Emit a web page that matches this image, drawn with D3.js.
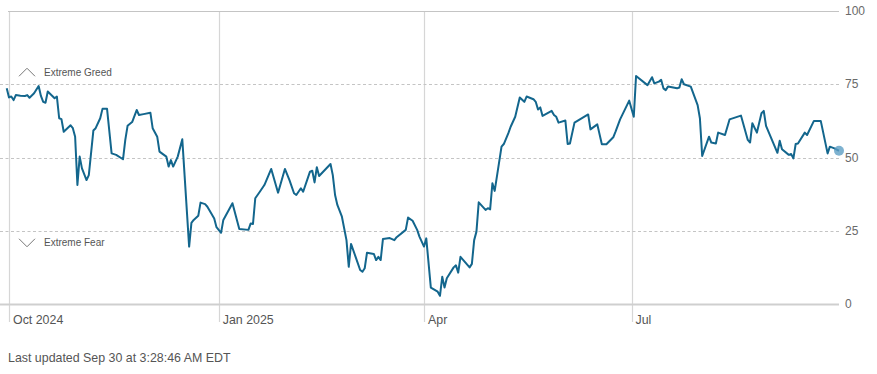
<!DOCTYPE html>
<html>
<head>
<meta charset="utf-8">
<script src="https://cdn.jsdelivr.net/npm/d3@7"></script>
<style>
  html, body { margin: 0; padding: 0; background: #fff; }
  svg { display: block; font-family: "Liberation Sans", Arial, sans-serif; }
</style>
</head>
<body>
<div id="app"></div>
<script>
// Fear & Greed readings, [date, score]
const q4_2024 = [
  ['2024-09-30', 73.6], ['2024-10-01', 70.5], ['2024-10-02', 70.8], ['2024-10-03', 69.6],
  ['2024-10-04', 71.3], ['2024-10-06', 71.1], ['2024-10-08', 71], ['2024-10-09', 71.3],
  ['2024-10-10', 70.4], ['2024-10-12', 71.9], ['2024-10-14', 74.4], ['2024-10-15', 71],
  ['2024-10-16', 69], ['2024-10-17', 68.7], ['2024-10-18', 72.5], ['2024-10-20', 71],
  ['2024-10-21', 70.2], ['2024-10-22', 70.8], ['2024-10-23', 63.4], ['2024-10-24', 63.1],
  ['2024-10-25', 58.8], ['2024-10-28', 61], ['2024-10-29', 60], ['2024-10-30', 57.1],
  ['2024-10-31', 40.6], ['2024-11-01', 50.3], ['2024-11-02', 46.3], ['2024-11-04', 42.3],
  ['2024-11-05', 44], ['2024-11-07', 59.2], ['2024-11-08', 60], ['2024-11-10', 63.4],
  ['2024-11-11', 66.6], ['2024-11-13', 66.6], ['2024-11-15', 51.4], ['2024-11-17', 50.9],
  ['2024-11-20', 49.4], ['2024-11-21', 56], ['2024-11-22', 60.8], ['2024-11-24', 62.1],
  ['2024-11-26', 66.2], ['2024-11-27', 64.5], ['2024-11-29', 64.8], ['2024-12-02', 65.3],
  ['2024-12-03', 60], ['2024-12-05', 57.1], ['2024-12-06', 52], ['2024-12-09', 50.3],
  ['2024-12-10', 46.9], ['2024-12-11', 49.1], ['2024-12-12', 46.9], ['2024-12-14', 50.3],
  ['2024-12-16', 56.2], ['2024-12-19', 19.6], ['2024-12-20', 27.7], ['2024-12-21', 28.7],
  ['2024-12-23', 30.1], ['2024-12-24', 34.6], ['2024-12-26', 34.1], ['2024-12-27', 33.2],
  ['2024-12-30', 29.2], ['2024-12-31', 26.2],
];
const q1_2025 = [
  ['2025-01-02', 24.3], ['2025-01-03', 28.7], ['2025-01-07', 34.4], ['2025-01-10', 25.6],
  ['2025-01-14', 25.3], ['2025-01-15', 27.5], ['2025-01-16', 27.3], ['2025-01-17', 36.1],
  ['2025-01-19', 38.3], ['2025-01-21', 40.6], ['2025-01-24', 46.1], ['2025-01-27', 38],
  ['2025-01-30', 46.1], ['2025-02-01', 42.3], ['2025-02-03', 37.8], ['2025-02-04', 37.2],
  ['2025-02-06', 39.5], ['2025-02-07', 38.3], ['2025-02-10', 45.2], ['2025-02-11', 45.5],
  ['2025-02-12', 41.5], ['2025-02-13', 46.7], ['2025-02-14', 43.7], ['2025-02-19', 47.8],
  ['2025-02-20', 44], ['2025-02-21', 37.2], ['2025-02-22', 33.8], ['2025-02-24', 29.8],
  ['2025-02-26', 21.8], ['2025-02-27', 12.7], ['2025-02-28', 20.5], ['2025-03-02', 16.1],
  ['2025-03-04', 11.6], ['2025-03-05', 11], ['2025-03-06', 12.2], ['2025-03-07', 17.5],
  ['2025-03-10', 17.1], ['2025-03-11', 15], ['2025-03-12', 16.1], ['2025-03-13', 15],
  ['2025-03-14', 22.2], ['2025-03-17', 22.5], ['2025-03-19', 21.8], ['2025-03-20', 22.8],
  ['2025-03-24', 25.3], ['2025-03-25', 29.5], ['2025-03-27', 28.4], ['2025-03-29', 25.3],
  ['2025-03-30', 23],
];
const q2_2025 = [
  ['2025-04-01', 19.6], ['2025-04-02', 22.4], ['2025-04-04', 5.6], ['2025-04-07', 4.2],
  ['2025-04-08', 2.8], ['2025-04-09', 9.3], ['2025-04-10', 5.6], ['2025-04-11', 8.8],
  ['2025-04-14', 12.5], ['2025-04-15', 13.2], ['2025-04-16', 10.7], ['2025-04-17', 16.1],
  ['2025-04-21', 12.5], ['2025-04-22', 13.7], ['2025-04-23', 21.8], ['2025-04-24', 24.7],
  ['2025-04-25', 34.7], ['2025-04-28', 32.1], ['2025-04-29', 32.7], ['2025-04-30', 32.3],
  ['2025-05-01', 41.2], ['2025-05-02', 38.6], ['2025-05-05', 53.7], ['2025-05-06', 54.6],
  ['2025-05-08', 58.3], ['2025-05-09', 60.5], ['2025-05-11', 63.9], ['2025-05-13', 70.5],
  ['2025-05-15', 69], ['2025-05-16', 70.8], ['2025-05-19', 69.9], ['2025-05-20', 69],
  ['2025-05-21', 66.4], ['2025-05-22', 67.1], ['2025-05-23', 64.2], ['2025-05-27', 65.9],
  ['2025-05-28', 64.5], ['2025-05-29', 63.9], ['2025-05-30', 61.9], ['2025-06-02', 62.6],
  ['2025-06-03', 54.6], ['2025-06-04', 54.8], ['2025-06-06', 61.9], ['2025-06-12', 64.7],
  ['2025-06-13', 59.6], ['2025-06-16', 61.3], ['2025-06-18', 54.5], ['2025-06-20', 54.5],
  ['2025-06-23', 56.9], ['2025-06-24', 58.8], ['2025-06-26', 63], ['2025-06-30', 69.4],
];
const q3_2025 = [
  ['2025-07-02', 63.9], ['2025-07-03', 77.8], ['2025-07-08', 74.7], ['2025-07-10', 77.4],
  ['2025-07-11', 75.3], ['2025-07-13', 75.9], ['2025-07-14', 76.5], ['2025-07-15', 73.6],
  ['2025-07-16', 73], ['2025-07-17', 74.2], ['2025-07-21', 73.6], ['2025-07-22', 73.9],
  ['2025-07-23', 76.7], ['2025-07-24', 75], ['2025-07-27', 74.2], ['2025-07-30', 67.9],
  ['2025-07-31', 63.4], ['2025-08-01', 50.5], ['2025-08-04', 57.1], ['2025-08-05', 55.1],
  ['2025-08-07', 54.8], ['2025-08-08', 58.5], ['2025-08-11', 57.7], ['2025-08-13', 63],
  ['2025-08-18', 64.3], ['2025-08-21', 56], ['2025-08-22', 55.1], ['2025-08-23', 61.7],
  ['2025-08-25', 58.5], ['2025-08-27', 65.1], ['2025-08-28', 65.9], ['2025-08-29', 60.8],
  ['2025-09-03', 51.6], ['2025-09-04', 55.7], ['2025-09-05', 52.8], ['2025-09-08', 50.9],
  ['2025-09-09', 51.2], ['2025-09-10', 49.7], ['2025-09-11', 54.6], ['2025-09-12', 54.8],
  ['2025-09-15', 58.5], ['2025-09-16', 57.7], ['2025-09-19', 62.5], ['2025-09-22', 62.5],
  ['2025-09-25', 51.4], ['2025-09-26', 53.7], ['2025-09-28', 53.1], ['2025-09-30', 52.3],
];

const monthTicks = ['2024-10-01', '2025-01-01', '2025-04-01', '2025-07-01'];
const monthLabels = ['Oct 2024', 'Jan 2025', 'Apr', 'Jul'];
const scoreTicks = [0, 25, 50, 75, 100];
const zoneLabels = ['Extreme Greed', 'Extreme Fear'];
const footnote = 'Last updated Sep 30 at 3:28:46 AM EDT';

const width = 877;
const height = 374;
const lineColor = '#13668d';
const gridColor = '#c4c4c4';
const textColor = '#6a6a6a';

const parseDate = d3.timeParse('%Y-%m-%d');
const readings = [...q4_2024, ...q1_2025, ...q2_2025, ...q3_2025].map(d => ({
  date: parseDate(d[0]),
  score: d[1],
}));

const svg = d3
  .select('#app')
  .append('svg')
  .attr('width', width)
  .attr('height', height);

const xScale = d3
  .scaleTime()
  .domain([parseDate('2024-10-01'), parseDate('2025-09-30')])
  .range([9, 839]);

const yScale = d3.scaleLinear().domain([0, 100]).range([304, 11]);

const plotRight = 839;

// vertical month lines, reaching a bit below the baseline
svg
  .append('g')
  .selectAll('line')
  .data(monthTicks)
  .enter()
  .append('line')
  .attr('x1', d => Math.round(xScale(parseDate(d))) + 0.5)
  .attr('x2', d => Math.round(xScale(parseDate(d))) + 0.5)
  .attr('y1', yScale(100))
  .attr('y2', yScale(0) + 18)
  .attr('stroke', '#d6d6d6')
  .attr('stroke-width', 1.2);

// horizontal score lines: dashed inside, solid at 0 and 100
svg
  .append('g')
  .selectAll('line')
  .data(scoreTicks)
  .enter()
  .append('line')
  .attr('x1', d => (d === 100 ? 8 : 0))
  .attr('x2', plotRight)
  .attr('y1', d => Math.round(yScale(d)) + 0.5)
  .attr('y2', d => Math.round(yScale(d)) + 0.5)
  .attr('stroke', d => (d === 0 ? '#cfcfcf' : gridColor))
  .attr('stroke-width', d => (d === 0 ? 2 : 1))
  .attr('stroke-dasharray', d => (d === 0 || d === 100 ? null : '3,2.5'));

// right axis labels
svg
  .append('g')
  .selectAll('text')
  .data(scoreTicks)
  .enter()
  .append('text')
  .attr('x', 845)
  .attr('y', d => yScale(d))
  .attr('dy', '0.35em')
  .attr('font-size', 12)
  .attr('fill', textColor)
  .text(d => d);

// month labels
svg
  .append('g')
  .selectAll('text')
  .data(monthTicks)
  .enter()
  .append('text')
  .attr('x', d => xScale(parseDate(d)) + 4)
  .attr('y', 324)
  .attr('font-size', 12.4)
  .attr('fill', '#555')
  .text((d, i) => monthLabels[i]);

// zone markers
const zones = [
  { label: zoneLabels[0], y: yScale(75) - 12, up: true },
  { label: zoneLabels[1], y: yScale(25) + 12, up: false },
];
const zoneGroup = svg.append('g');
zones.forEach(z => {
  const dir = z.up ? -1 : 1;
  zoneGroup
    .append('polyline')
    .attr('points', `19,${z.y - 4 * dir} 27,${z.y + 4 * dir} 35,${z.y - 4 * dir}`)
    .attr('fill', 'none')
    .attr('stroke', '#777')
    .attr('stroke-width', 1);
  zoneGroup
    .append('text')
    .attr('x', 44)
    .attr('y', z.y)
    .attr('dy', '0.35em')
    .attr('font-size', 10)
    .attr('fill', '#555')
    .text(z.label);
});

const lineFunc = d3
  .line()
  .x(d => xScale(d.date))
  .y(d => yScale(d.score));

svg
  .append('path')
  .datum(readings)
  .attr('d', lineFunc)
  .attr('fill', 'none')
  .attr('stroke', lineColor)
  .attr('stroke-width', 2)
  .attr('stroke-linejoin', 'round');

// latest reading marker
const last = readings[readings.length - 1];
svg
  .append('circle')
  .attr('cx', xScale(last.date))
  .attr('cy', yScale(last.score))
  .attr('r', 5)
  .attr('fill', '#5e9fc4')
  .attr('fill-opacity', 0.8);

svg
  .append('text')
  .attr('x', 8)
  .attr('y', 362)
  .attr('font-size', 12.4)
  .attr('fill', '#555')
  .text(footnote);
</script>
</body>
</html>
